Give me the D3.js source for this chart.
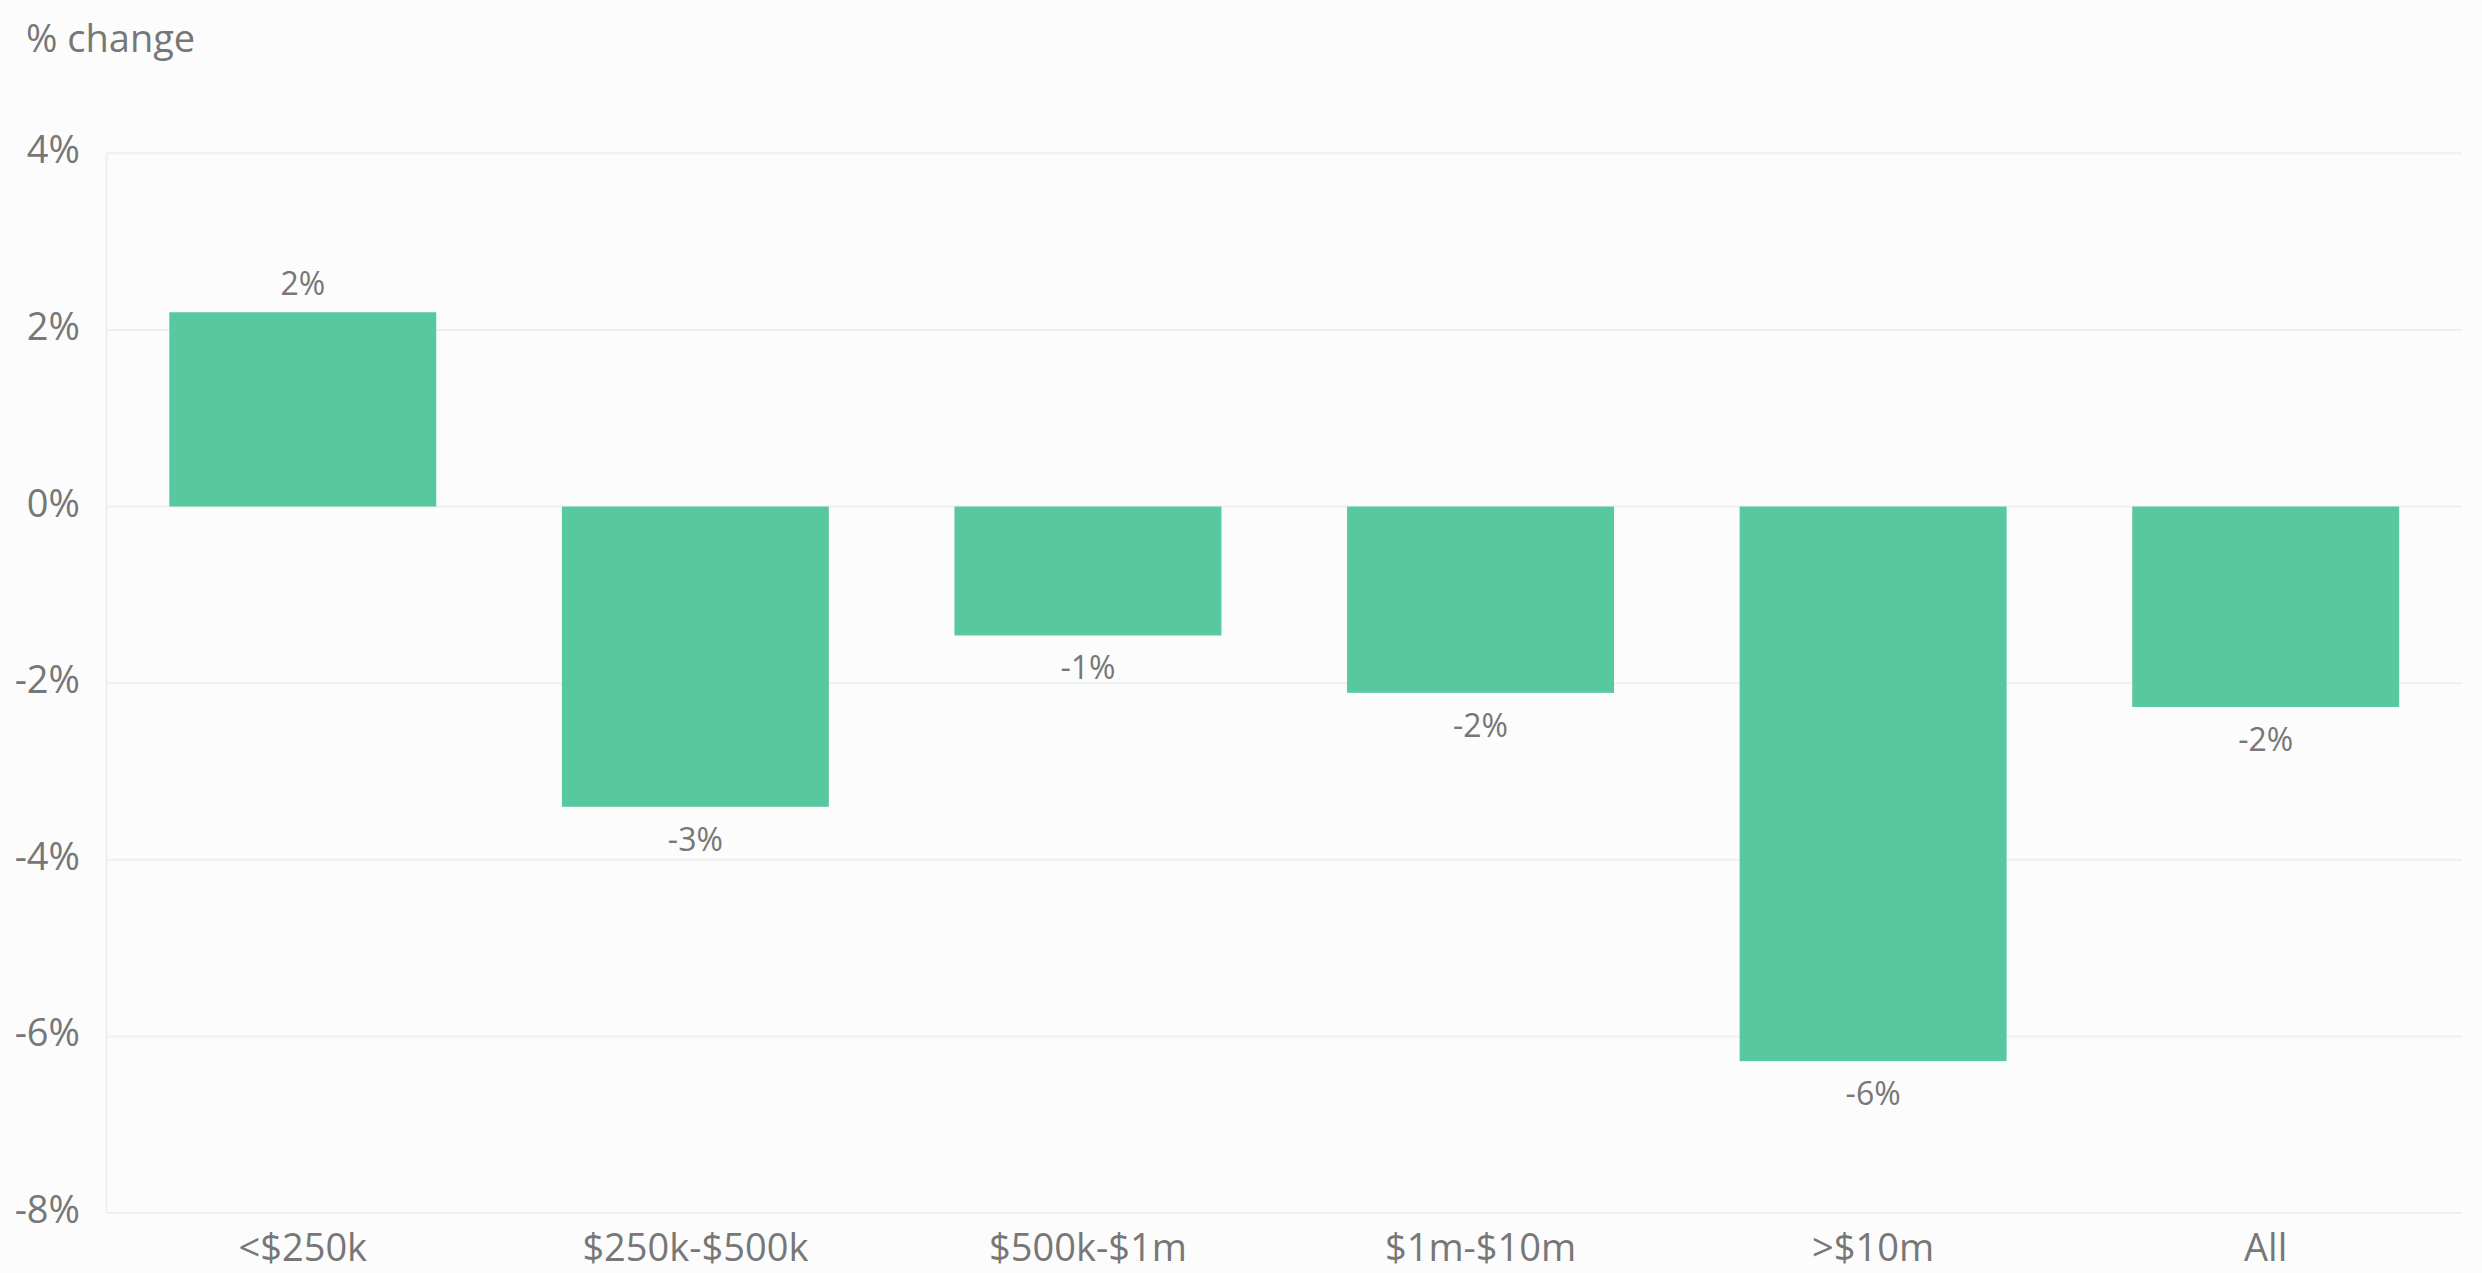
<!DOCTYPE html>
<html>
<head>
<meta charset="utf-8">
<script src="https://cdn.jsdelivr.net/npm/d3@7"></script>
<style>
  html, body { margin: 0; padding: 0; background: #fcfcfc; }
  svg { display: block; }
  text { font-family: "Open Sans", "Noto Sans", sans-serif; fill: #777; }
</style>
</head>
<body>
<svg id="chart" width="2482" height="1273"></svg>
<script>
const categories = ["<$250k", "$250k-$500k", "$500k-$1m", "$1m-$10m", ">$10m", "All"];
const values = [2.2, -3.4, -1.46, -2.11, -6.28, -2.27];
const yTicks = [4, 2, 0, -2, -4, -6, -8];
const yTitle = "% change";

(function () {
const W = 2482, H = 1273;
const mLeft = 106.5, mRight = 2462, mTop = 153.3, mBottom = 1213;

const svg = d3.select("#chart");
svg.append("rect").attr("width", W).attr("height", H).attr("fill", "#fcfcfc");

const x = d3.scaleBand().domain(categories).range([mLeft, mRight]).paddingInner(0.32).paddingOuter(0.16);
const y = d3.scaleLinear().domain([-8, 4]).range([mBottom, mTop]);

// gridlines
svg.append("g").selectAll("line").data(yTicks).join("line")
  .attr("x1", mLeft).attr("x2", mRight)
  .attr("y1", d => y(d)).attr("y2", d => y(d))
  .attr("stroke", "#efefef").attr("stroke-width", 2);

// left axis line
svg.append("line").attr("x1", mLeft).attr("x2", mLeft).attr("y1", mTop).attr("y2", mBottom)
  .attr("stroke", "#efefef").attr("stroke-width", 2);

// y tick labels
svg.append("g").selectAll("text").data(yTicks).join("text")
  .attr("x", 80).attr("y", d => y(d) + 10)
  .attr("text-anchor", "end").attr("font-size", 38)
  .text(d => d + "%");

// title
svg.append("text").attr("x", 26).attr("y", 52).attr("font-size", 38).text(yTitle);

// bars
const data = categories.map((c, i) => ({ c, v: values[i] }));
svg.append("g").selectAll("rect").data(data).join("rect")
  .attr("x", d => x(d.c)).attr("width", x.bandwidth())
  .attr("y", d => y(Math.max(0, d.v)))
  .attr("height", d => Math.abs(y(d.v) - y(0)))
  .attr("fill", "#58c89f");

// value labels
svg.append("g").selectAll("text").data(data).join("text")
  .attr("x", d => x(d.c) + x.bandwidth() / 2)
  .attr("y", d => d.v >= 0 ? y(d.v) - 17 : y(d.v) + 44)
  .attr("text-anchor", "middle").attr("font-size", 32)
  .text(d => Math.round(d.v) + "%");

// x labels
svg.append("g").selectAll("text").data(categories).join("text")
  .attr("x", d => x(d) + x.bandwidth() / 2).attr("y", 1261)
  .attr("text-anchor", "middle").attr("font-size", 38)
  .text(d => d);
})();
</script>
</body>
</html>
